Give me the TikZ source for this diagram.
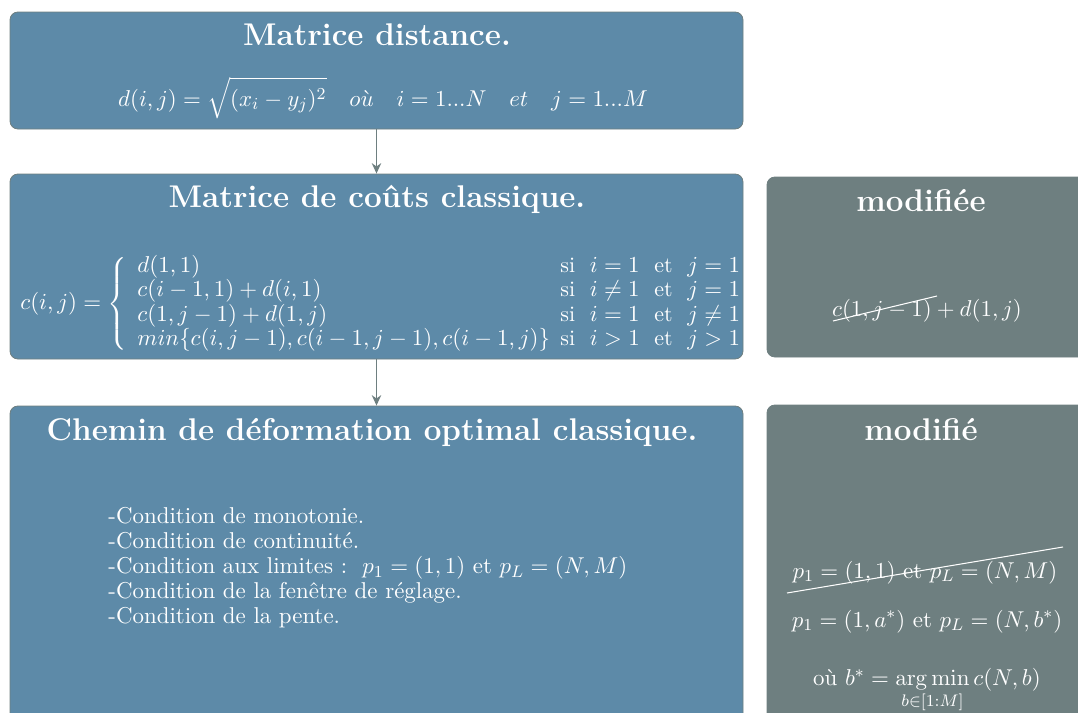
\documentclass[tikz,border=0pt]{standalone}
\usepackage{amsmath,amssymb}
\usepackage{tikz}
\usetikzlibrary{arrows.meta, positioning, fit}
\definecolor{airblue}{RGB}{93,138,168}
\definecolor{slate}{RGB}{110,127,128}

\begin{document}
\begin{tikzpicture}[x=0.478pt, y=-0.478pt,
      bloc/.style={rectangle, rounded corners=3.8pt, fill=airblue, draw=slate, line width=0.4pt, inner sep=0pt},
      blocmod/.style={bloc, fill=slate},
      titre/.style={text=white, font=\fontsize{15}{18}\selectfont\bfseries, anchor=base, inner sep=0pt},
      txt/.style={text=white, font=\fontsize{10.95}{11.95}\selectfont, inner sep=0pt},
      arr/.style={-{Stealth[length=5pt, width=4.5pt]}, line width=0.7pt, slate},
      barre/.style={white, line width=0.5pt},
    ]
    \useasboundingbox (0,0) rectangle (1078,713);
    \clip (0,0) rectangle (1078,713);

    \node[bloc, fit={(10,12) (743,129)}] (dist) {};
    \node[bloc, fit={(10,174) (743,359)}] (couts) {};
    \node[bloc, fit={(10,406) (743,740)}] (chemin) {};
    \node[blocmod, fit={(767,177) (1100,357)}] (coutsmod) {};
    \node[blocmod, fit={(767,405) (1100,740)}] (cheminmod) {};

    \node[titre] (tdist) at (377,45) {Matrice distance.};
    \node[txt, anchor=base] (fdist) at (383,106)
      {$\displaystyle d(i,j)=\sqrt{(x_i-y_j)^2}\quad o\grave{u}\quad i=1...N\quad et\quad j=1...M$};

    \node[titre] (tcouts) at (377,207) {Matrice de coûts classique.};
    \node[txt, font=\fontsize{10.5}{11.5}\selectfont, anchor=west] (fcouts) at (20,304)
      {$c(i,j)=\left\{\hspace{5pt}\begin{array}{@{}l@{\hspace{5pt}}l@{}}
        d(1,1) & \text{si }\ i=1\ \text{ et }\ j=1\\
        c(i-1,1)+d(i,1) & \text{si }\ i\neq 1\ \text{ et }\ j=1\\
        c(1,j-1)+d(1,j) & \text{si }\ i=1\ \text{ et }\ j\neq 1\\
        min\{c(i,j-1),c(i-1,j-1),c(i-1,j)\} & \text{si }\ i>1\ \text{ et }\ j>1
      \end{array}\right.$};

    \node[titre] (tchemin) at (372,440) {Chemin de déformation optimal classique.};
    \node[txt, align=left, anchor=north west] (cond) at (108,507)
      {-Condition de monotonie.\\
       -Condition de continuité.\\
       -Condition aux limites :\ \ $p_1=(1,1)$ et $p_L=(N,M)$\\
       -Condition de la fenêtre de réglage.\\
       -Condition de la pente.};

    \node[titre] (tcoutsmod) at (921,211) {modifiée};
    \node[txt, anchor=base] (fcoutsmod) at (927,316) {$c(1,j-1)+d(1,j)$};
    \draw[barre] (833,321) -- (937,296);

    \node[titre] (tcheminmod) at (921,440) {modifié};
    \node[txt, anchor=base] (lim1) at (925,578) {$p_1=(1,1)$\ et\ $p_L=(N,M)$};
    \draw[barre] (787,593) -- (1063,547);
    \node[txt, anchor=base] (lim2) at (927,627) {$p_1=(1,a^*)$\ et\ $p_L=(N,b^*)$};
    \node[txt, anchor=north] (bstar) at (927,668)
      {où\ $b^*=\displaystyle\operatorname*{arg\,min}_{b\in[1:M]} c(N,b)$};

    \draw[arr] (dist) -- (couts);
    \draw[arr] (couts) -- (chemin);
  \end{tikzpicture}
\end{document}
